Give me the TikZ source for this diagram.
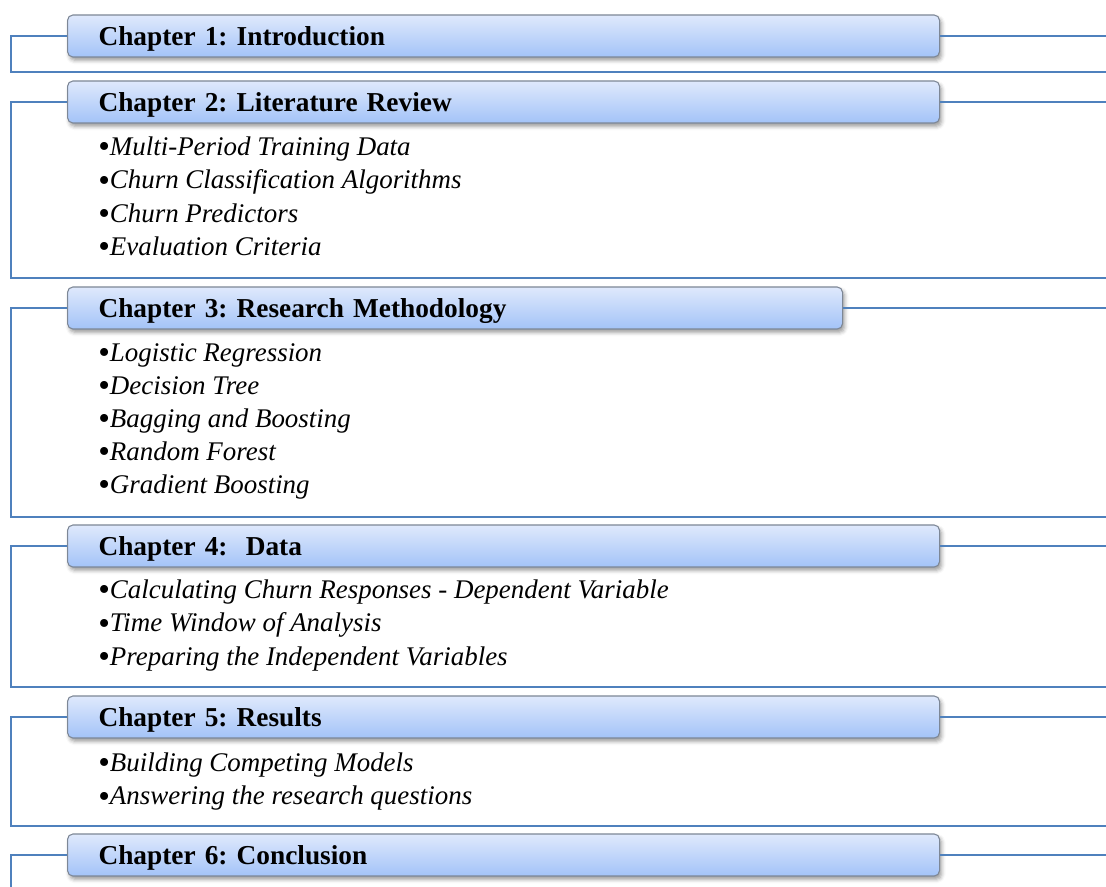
\documentclass[tikz,border=0pt]{standalone}
\usepackage{fontspec}
\setmainfont{Liberation Serif}
\usetikzlibrary{shadows.blur}
\definecolor{linkblue}{HTML}{4F81BD}
\definecolor{bartop}{HTML}{DFE9FC}
\definecolor{barbot}{HTML}{A3C3F8}
\definecolor{barline}{HTML}{7D8796}
\frenchspacing
% a slightly heavier bullet in front of every entry
\newcommand{\entrydot}{{\upshape\fontsize{25}{24}\selectfont\raisebox{-2.2pt}{•}}}
\tikzset{
  chapbar/.style={draw=barline, line width=0.8pt, rounded corners=4pt,
    top color=bartop, bottom color=barbot,
    minimum height=31.5pt, inner xsep=23.25pt, inner ysep=0pt,
    anchor=west, align=left,
    font=\fontsize{20.5}{24}\selectfont\bfseries,
    text height=13.5pt, text depth=-0.5pt,
    blur shadow={shadow xshift=1.5pt, shadow yshift=-2.5pt,
      shadow blur radius=3pt, shadow opacity=40}},
  widebar/.style={chapbar, text width=607.5pt},
  shortbar/.style={chapbar, text width=534.75pt},
  link/.style={draw=linkblue, line width=1.2pt},
  item/.style={anchor=base west, inner sep=0pt,
    font=\fontsize{20.2}{24}\selectfont\itshape}
}
\begin{document}
\begin{tikzpicture}[x=0.75pt,y=-0.75pt]
\useasboundingbox (0,0) rectangle (1106,886);
\coordinate (R) at (1106,0);

% section ends on the left rail
\coordinate (e1) at (11,72);
\coordinate (e2) at (11,278);
\coordinate (e3) at (11,517);
\coordinate (e4) at (11,687);
\coordinate (e5) at (11,826);
\coordinate (e6) at (11,900);

% chapter bars
\node[widebar]  (b1) at (67,36)  {Chapter 1: Introduction};
\node[widebar]  (b2) at (67,102) {Chapter 2: Literature Review};
\node[shortbar] (b3) at (67,308) {Chapter 3: Research Methodology};
\node[widebar]  (b4) at (67,546) {Chapter 4:\ \ Data};
\node[widebar]  (b5) at (67,717) {Chapter 5: Results};
\node[widebar]  (b6) at (67,855) {Chapter 6: Conclusion};

% brackets and right-hand leaders
\foreach \b/\e in {b1/e1,b2/e2,b3/e3,b4/e4,b5/e5,b6/e6}{
  \draw[link] (\b.west) -| (\e) -- (\e -| R);
  \draw[link] (\b.east) -- (\b.east -| R);
}

% chapter contents
\node[item] (i21) at (98,155) {\entrydot Multi-Period Training Data};
\node[item] (i22) at (98,188.5) {\entrydot Churn Classification Algorithms};
\node[item] (i23) at (98,222) {\entrydot Churn Predictors};
\node[item] (i24) at (98,255) {\entrydot Evaluation Criteria};

\node[item] (i31) at (98,361) {\entrydot Logistic Regression};
\node[item] (i32) at (98,394) {\entrydot Decision Tree};
\node[item] (i33) at (98,427) {\entrydot Bagging and Boosting};
\node[item] (i34) at (98,460) {\entrydot Random Forest};
\node[item] (i35) at (98,493) {\entrydot Gradient Boosting};

\node[item] (i41) at (98,598) {\entrydot Calculating Churn Responses - Dependent Variable};
\node[item] (i42) at (98,631.5) {\entrydot Time Window of Analysis};
\node[item] (i43) at (98,665) {\entrydot Preparing the Independent Variables};

\node[item] (i51) at (98,771) {\entrydot Building Competing Models};
\node[item] (i52) at (98,804.5) {\entrydot Answering the research questions};
\end{tikzpicture}
\end{document}
